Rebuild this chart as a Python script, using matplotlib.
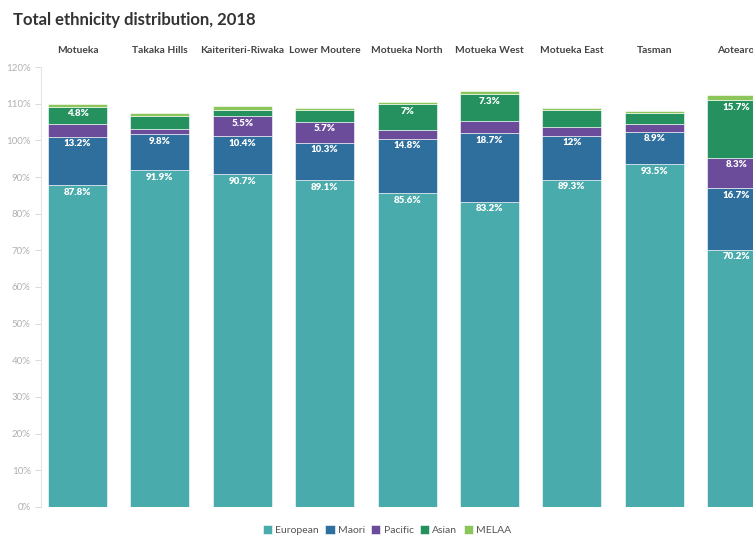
import matplotlib
matplotlib.use("Agg")
import matplotlib.pyplot as plt
import numpy as np

plt.rcParams['font.family'] = ['Lato', 'DejaVu Sans']

areas = ["Motueka", "Takaka Hills", "Kaiteriteri-Riwaka", "Lower Moutere",
         "Motueka North", "Motueka West", "Motueka East", "Tasman",
         "Aotearoa New Zealand"]
european = [87.8, 91.9, 90.7, 89.1, 85.6, 83.2, 89.3, 93.5, 70.2]
maori = [13.2, 9.8, 10.4, 10.3, 14.8, 18.7, 12.0, 8.9, 16.7]
pacific = [3.4, 1.5, 5.5, 5.7, 2.5, 3.4, 2.4, 2.0, 8.3]
asian = [4.8, 3.5, 1.8, 3.2, 7.0, 7.3, 4.5, 3.0, 15.7]
melaa = [0.8, 0.8, 1.1, 0.5, 0.5, 0.9, 0.6, 0.6, 1.5]

groups = ["European", "Maori", "Pacific", "Asian", "MELAA"]
colors = ["#4aabad", "#2f6f9e", "#6b4c9a", "#24915f", "#8cc55a"]

fig = plt.figure(figsize=(7.53, 5.35), dpi=100)
ax = fig.add_axes([41 / 753, 28 / 535, 712 / 753, 440 / 535])

x = np.arange(len(areas))
bottom = np.zeros(len(areas))
for name, vals, col in zip(groups, [european, maori, pacific, asian, melaa], colors):
    vals = np.array(vals)
    ax.bar(x, vals, 0.716, bottom=bottom, color=col, label=name,
           edgecolor="white", linewidth=0.4)
    for xi, b, v in zip(x, bottom, vals):
        if v >= 4.7:
            txt = f"{v:g}%"
            ax.text(xi, b + v - 1.9, txt, ha="center", va="center",
                    color="white", fontsize=7, fontweight="heavy")
    bottom += vals

ax.set_xlim(-0.443, 8.198)
ax.set_ylim(0, 120)
ax.set_yticks(range(0, 121, 10))
ax.set_yticklabels([f"{t}%" for t in range(0, 121, 10)])
ax.tick_params(axis="y", colors="#d5d5d5", labelcolor="#b0b0b0", labelsize=7,
               length=4, width=0.6)
ax.set_xticks([])
for s in ["top", "right", "bottom"]:
    ax.spines[s].set_visible(False)
ax.spines["left"].set_color("#e6e6e6")
ax.spines["left"].set_linewidth(0.8)

# column titles
for xi, name in zip(x, areas):
    if name.startswith("Aotearoa"):
        ax.text(xi - 0.237, 124.4, name, ha="left", va="center", fontsize=7.4,
                fontweight="bold", color="#444444", clip_on=False)
    else:
        ax.text(xi, 124.4, name, ha="center", va="center", fontsize=7.4,
                fontweight="bold", color="#444444", clip_on=False)

fig.text(13 / 753, 1 - 20 / 535, "Total ethnicity distribution, 2018",
         ha="left", va="center", fontsize=12, fontweight="bold", color="#333333")

fig.legend(loc="center", bbox_to_anchor=(387 / 753, 5 / 535), ncol=5,
           frameon=False, fontsize=7.5, handlelength=0.9, handleheight=0.9,
           handletextpad=0.3, columnspacing=0.6, labelcolor="#555555")

fig.savefig("out.png", dpi=100)
